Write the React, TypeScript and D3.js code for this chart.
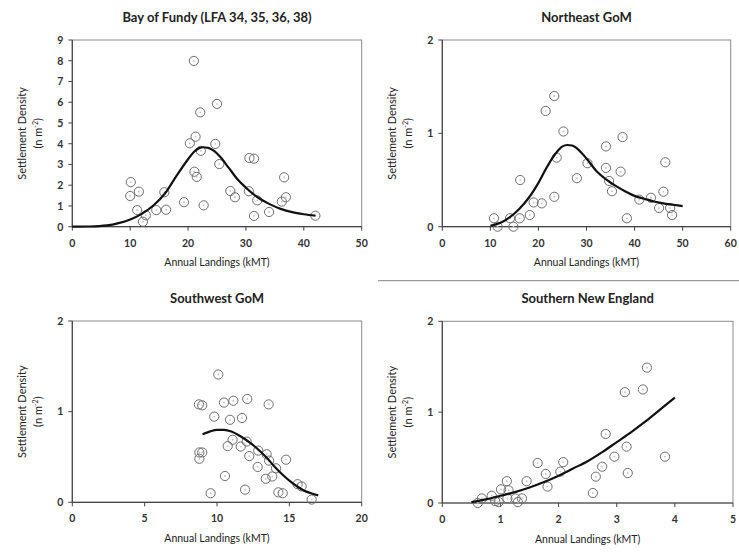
import React from "react";
import * as d3 from "d3";

// ---------- DATA ----------
// Bay of Fundy (LFA 34, 35, 36, 38)
const fundyX = [10.1, 10.0, 11.5, 11.2, 12.2, 12.7, 14.5, 15.9, 16.2, 19.3, 21.0, 22.1, 20.3, 21.3, 22.2, 21.1, 21.5, 22.7, 25.0, 24.7, 25.4, 30.6, 31.4, 27.3, 28.1, 30.5, 31.95, 31.4, 34.0, 36.6, 36.9, 36.2, 42.0];
const fundyY = [2.15, 1.48, 1.69, 0.8, 0.24, 0.55, 0.8, 1.66, 0.82, 1.18, 7.99, 5.51, 4.02, 4.34, 3.66, 2.65, 2.4, 1.03, 5.92, 3.99, 3.02, 3.31, 3.28, 1.72, 1.42, 1.71, 1.27, 0.52, 0.71, 2.38, 1.42, 1.21, 0.53];
const fundyFitX = [0, 3, 6, 8, 10, 12, 14, 16, 18, 20, 21, 22, 22.6, 23.5, 24.5, 25.5, 27, 28.5, 30, 32, 34, 36, 38, 40, 42];
const fundyFitY = [0, 0.01, 0.06, 0.17, 0.35, 0.62, 1.02, 1.6, 2.45, 3.25, 3.6, 3.8, 3.83, 3.8, 3.65, 3.38, 2.85, 2.3, 1.88, 1.42, 1.1, 0.86, 0.7, 0.6, 0.53];
const fundyXTicks = [0, 10, 20, 30, 40, 50];
const fundyYTicks = [0, 1, 2, 3, 4, 5, 6, 7, 8, 9];

// Northeast GoM
const neX = [10.75, 11.5, 14.8, 14.1, 16.1, 16.2, 18.2, 19.0, 20.7, 21.5, 23.3, 23.3, 23.8, 25.2, 28.0, 30.2, 34.05, 34.05, 34.7, 35.3, 37.1, 37.5, 38.4, 41.0, 43.4, 45.1, 46.0, 46.4, 47.4, 47.8];
const neY = [0.09, 0.0, 0.0, 0.09, 0.09, 0.5, 0.125, 0.26, 0.25, 1.24, 1.4, 0.32, 0.74, 1.02, 0.52, 0.68, 0.86, 0.63, 0.49, 0.38, 0.59, 0.96, 0.09, 0.29, 0.31, 0.2, 0.375, 0.69, 0.2, 0.125];
const neFitX = [10, 12, 14, 16, 18, 20, 22, 24, 25, 26, 27, 28, 30, 32, 34, 36, 38, 40, 42, 44, 46, 48, 50];
const neFitY = [0.01, 0.04, 0.1, 0.19, 0.31, 0.47, 0.66, 0.81, 0.86, 0.875, 0.87, 0.84, 0.73, 0.6, 0.51, 0.44, 0.38, 0.33, 0.3, 0.27, 0.25, 0.235, 0.22];
const neXTicks = [0, 10, 20, 30, 40, 50, 60];
const neYTicks = [0, 1, 2];

// Southwest GoM
const swX = [8.75, 8.98, 10.09, 9.81, 8.78, 8.78, 8.98, 9.56, 10.48, 11.13, 10.9, 11.73, 12.09, 13.57, 11.08, 10.74, 11.64, 12.05, 12.23, 10.55, 11.94, 12.81, 12.85, 13.43, 13.6, 13.37, 13.82, 14.08, 14.77, 14.24, 14.54, 15.57, 15.85, 16.54];
const swY = [1.08, 1.07, 1.41, 0.945, 0.55, 0.48, 0.55, 0.1, 1.1, 1.12, 0.91, 0.93, 1.14, 1.08, 0.69, 0.62, 0.615, 0.67, 0.51, 0.29, 0.14, 0.39, 0.57, 0.53, 0.46, 0.26, 0.285, 0.375, 0.47, 0.11, 0.1, 0.2, 0.175, 0.03];
const swFitX = [9, 9.5, 10, 10.5, 11, 11.5, 12, 12.5, 13, 13.5, 14, 14.5, 15, 15.5, 16, 16.5, 17];
const swFitY = [0.75, 0.78, 0.8, 0.8, 0.78, 0.74, 0.69, 0.63, 0.56, 0.48, 0.39, 0.31, 0.24, 0.18, 0.13, 0.1, 0.077];
const swXTicks = [0, 5, 10, 15, 20];
const swYTicks = [0, 1, 2];

// Southern New England
const sneX = [0.61, 0.68, 0.85, 0.91, 0.97, 1.01, 1.11, 1.14, 1.12, 1.26, 1.3, 1.37, 1.45, 1.64, 1.78, 1.81, 2.03, 2.08, 2.59, 2.64, 2.75, 2.81, 2.96, 3.14, 3.17, 3.19, 3.45, 3.52, 3.83];
const sneY = [0.0, 0.05, 0.08, 0.02, 0.01, 0.15, 0.24, 0.14, 0.05, 0.05, 0.01, 0.05, 0.24, 0.44, 0.32, 0.18, 0.345, 0.45, 0.11, 0.29, 0.4, 0.76, 0.51, 1.22, 0.62, 0.33, 1.25, 1.49, 0.51];
const sneFitX = [0.5, 0.75, 1, 1.25, 1.5, 1.75, 2, 2.25, 2.5, 2.75, 3, 3.25, 3.5, 3.75, 4];
const sneFitY = [0.01, 0.04, 0.08, 0.12, 0.17, 0.23, 0.3, 0.38, 0.46, 0.56, 0.67, 0.78, 0.9, 1.03, 1.16];
const sneXTicks = [0, 1, 2, 3, 4, 5];
const sneYTicks = [0, 1, 2];

const titles = ["Bay of Fundy (LFA 34, 35, 36, 38)", "Northeast GoM", "Southwest GoM", "Southern New England"];
const xAxisTitle = "Annual Landings (kMT)";
const yAxisTitle = "Settlement Density";

// ---------- COMPONENTS ----------
const FONT = "Lato, 'Open Sans', 'DejaVu Sans', sans-serif";

type PanelProps = {
  title: string;
  box: { l: number; r: number; t: number; b: number };
  xs: number[]; ys: number[];
  fx: number[]; fy: number[];
  xTicks: number[]; yTicks: number[];
};

function Panel({ title, box, xs, ys, fx, fy, xTicks, yTicks }: PanelProps) {
  const x = d3.scaleLinear().domain([xTicks[0], xTicks[xTicks.length - 1]]).range([box.l, box.r]);
  const y = d3.scaleLinear().domain([yTicks[0], yTicks[yTicks.length - 1]]).range([box.b, box.t]);
  const line = d3.line<number>().x((_, i) => x(fx[i])).y((d) => y(d)).curve(d3.curveMonotoneX);
  const cx = (box.l + box.r) / 2;
  const cy = (box.t + box.b) / 2;
  return (
    <g>
      <rect x={box.l} y={box.t} width={box.r - box.l} height={box.b - box.t} fill="none" stroke="#8a8a8a" strokeWidth={1} />
      <line x1={box.l} x2={box.l} y1={box.t} y2={box.b} stroke="#444" strokeWidth={1.2} />
      <line x1={box.l} x2={box.r} y1={box.b} y2={box.b} stroke="#444" strokeWidth={1.2} />
      {xTicks.map((t) => (
        <g key={"x" + t}>
          <line x1={x(t)} x2={x(t)} y1={box.b} y2={box.b + 4} stroke="#444" />
          <text x={x(t)} y={box.b + 20} textAnchor="middle" fontSize={10.5} fontWeight={700} fill="#333" fontFamily={FONT}>{t}</text>
        </g>
      ))}
      {yTicks.map((t) => (
        <g key={"y" + t}>
          <line x1={box.l - 4} x2={box.l} y1={y(t)} y2={y(t)} stroke="#444" />
          <text x={box.l - 9} y={y(t) + 3.8} textAnchor="end" fontSize={10.5} fontWeight={700} fill="#333" fontFamily={FONT}>{t}</text>
        </g>
      ))}
      <text x={cx} y={box.t - 18} textAnchor="middle" fontSize={13} fontWeight={700} fill="#222" fontFamily={FONT}>{title}</text>
      <text x={cx} y={box.b + 39.5} textAnchor="middle" fontSize={10.5} fill="#222" fontFamily={FONT}>{xAxisTitle}</text>
      <text transform={`translate(${box.l - 46},${cy}) rotate(-90)`} textAnchor="middle" fontSize={11} fill="#222" fontFamily={FONT}>{yAxisTitle}</text>
      <text transform={`translate(${box.l - 30},${cy}) rotate(-90)`} textAnchor="middle" fontSize={11} fill="#222" fontFamily={FONT}>
        (n m<tspan dy={-4} fontSize={7}>-2</tspan><tspan dy={4}>)</tspan>
      </text>
      {xs.map((v, i) => (
        <g key={"p" + i}>
          <circle cx={x(v)} cy={y(ys[i])} r={4.6} fill="none" stroke="#6e6e6e" strokeWidth={1} />
          <circle cx={x(v)} cy={y(ys[i])} r={0.9} fill="#c4c4c4" />
        </g>
      ))}
      <path d={line(fy) || ""} fill="none" stroke="#111" strokeWidth={2.2} />
    </g>
  );
}

export default function App() {
  return (
    <svg width={739} height={555} style={{ position: "absolute", left: 0, top: 0, background: "#fff" }}>
      <rect x={0} y={0} width={739} height={555} fill="#fff" />
      <line x1={378} x2={739} y1={280.7} y2={280.7} stroke="#9a9a9a" strokeWidth={1.2} />
      <Panel title={titles[0]} box={{ l: 72.3, r: 361.7, t: 40, b: 226.7 }} xs={fundyX} ys={fundyY} fx={fundyFitX} fy={fundyFitY} xTicks={fundyXTicks} yTicks={fundyYTicks} />
      <Panel title={titles[1]} box={{ l: 442.3, r: 730.7, t: 40, b: 226.7 }} xs={neX} ys={neY} fx={neFitX} fy={neFitY} xTicks={neXTicks} yTicks={neYTicks} />
      <Panel title={titles[2]} box={{ l: 72.3, r: 361.7, t: 321, b: 502.3 }} xs={swX} ys={swY} fx={swFitX} fy={swFitY} xTicks={swXTicks} yTicks={swYTicks} />
      <Panel title={titles[3]} box={{ l: 442.3, r: 733, t: 321.3, b: 503 }} xs={sneX} ys={sneY} fx={sneFitX} fy={sneFitY} xTicks={sneXTicks} yTicks={sneYTicks} />
    </svg>
  );
}
